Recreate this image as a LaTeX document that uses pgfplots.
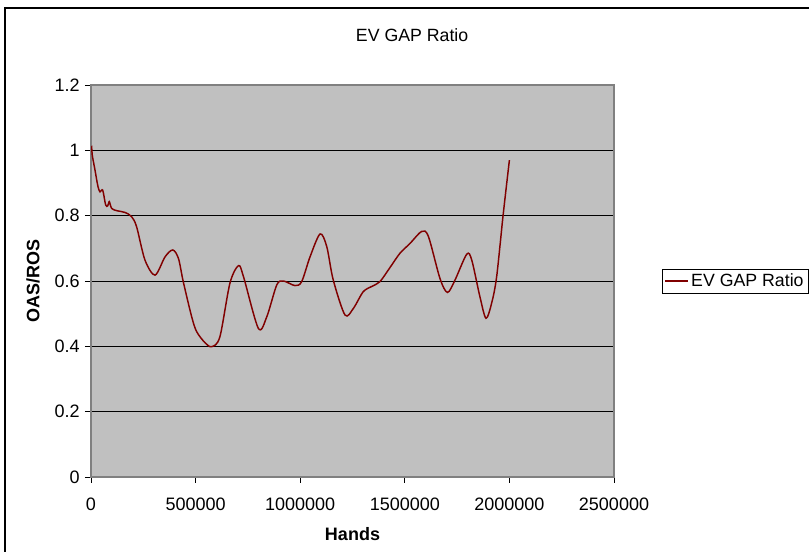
\documentclass[border=0pt]{standalone}
\usepackage{fontspec}
\setmainfont{Liberation Sans}
\usepackage{pgfplots}
\pgfplotsset{compat=1.18}
\definecolor{plotgray}{RGB}{192,192,192}
\definecolor{axgray}{RGB}{128,128,128}
\definecolor{darkred}{RGB}{128,0,0}
\begin{document}
\begin{tikzpicture}[x=0.75pt,y=0.75pt]
\useasboundingbox (0,0) rectangle (809,552);
\draw[black, line width=0.9pt] (5,-10) -- (5,544) -- (830,544);
\begin{axis}[
  at={(68.25pt,56.25pt)}, anchor=south west,
  scale only axis, width=392.25pt, height=294pt,
  xmin=0, xmax=2500000, ymin=0, ymax=1.2,
  xtick={0,500000,1000000,1500000,2000000,2500000},
  ytick={0,0.2,0.4,0.6,0.8,1,1.2},
  yticklabels={0,0.2,0.4,0.6,0.8,1,1.2},
  scaled x ticks=false,
  xticklabel style={/pgf/number format/fixed, /pgf/number format/1000 sep={}, yshift=-7.5pt},
  yticklabel style={xshift=-0.5pt},
  /pgf/number format/assume math mode=true,
  ticklabel style={font=\fontsize{13.5}{16}\selectfont},
  xtick pos=left, ytick pos=left,
  tick align=outside, major tick length=4.5pt,
  tick style={black, line width=0.6pt},
  axis background/.style={fill=plotgray},
  axis line style={draw=axgray, line width=1.2pt},
  ymajorgrids, major grid style={black, line width=0.7pt},
  title={EV GAP Ratio},
  title style={at={(axis description cs:0.614,1.107)}, anchor=center, font=\fontsize{13.3}{16}\selectfont},
  xlabel={Hands},
  xlabel style={at={(axis description cs:0.5,-0.1454)}, anchor=center, font=\fontsize{13.5}{16}\selectfont\bfseries},
  ylabel={OAS/ROS},
  ylabel style={at={(axis description cs:-0.111,0.5)}, anchor=center, font=\fontsize{13.5}{16}\selectfont\bfseries},
  legend style={at={(axis description cs:1.0918,0.5)}, anchor=west, draw=black, fill=white,
    font=\fontsize{13.3}{16}\selectfont, inner sep=1.5pt, line width=0.6pt},
  legend image code/.code={\draw[#1] (0pt,0pt) -- (17pt,0pt);},
]
\addplot[darkred, line width=1.1pt, smooth, tension=0.5] coordinates {
(0,1.005) (3000,1.01) (6000,0.985) (19000,0.94) (33000,0.89) (43000,0.873)
(56000,0.878) (70000,0.833) (80000,0.83) (87500,0.843) (99000,0.822)
(125000,0.815) (162000,0.81) (194000,0.797) (218000,0.766) (258000,0.664)
(306000,0.618) (354000,0.674) (391000,0.695) (418000,0.669) (441000,0.598)
(481000,0.491) (505000,0.445) (545000,0.411) (577000,0.399) (616000,0.429)
(664000,0.593) (705000,0.647) (729000,0.613) (800000,0.455) (840000,0.49)
(888000,0.588) (920000,0.600) (975000,0.586) (1007000,0.598) (1047000,0.674)
(1095000,0.744) (1127000,0.705) (1158000,0.603) (1214000,0.496) (1254000,0.516)
(1301000,0.567) (1341000,0.583) (1381000,0.598) (1430000,0.642) (1477000,0.685)
(1525000,0.715) (1581000,0.752) (1613000,0.736) (1668000,0.608) (1704000,0.565)
(1740000,0.603) (1796000,0.682) (1820000,0.664) (1859000,0.552) (1888000,0.486)
(1915000,0.532) (1939000,0.613) (1970000,0.802) (2000000,0.970)
};
\addlegendentry{EV GAP Ratio}
\end{axis}
\end{tikzpicture}
\end{document}
